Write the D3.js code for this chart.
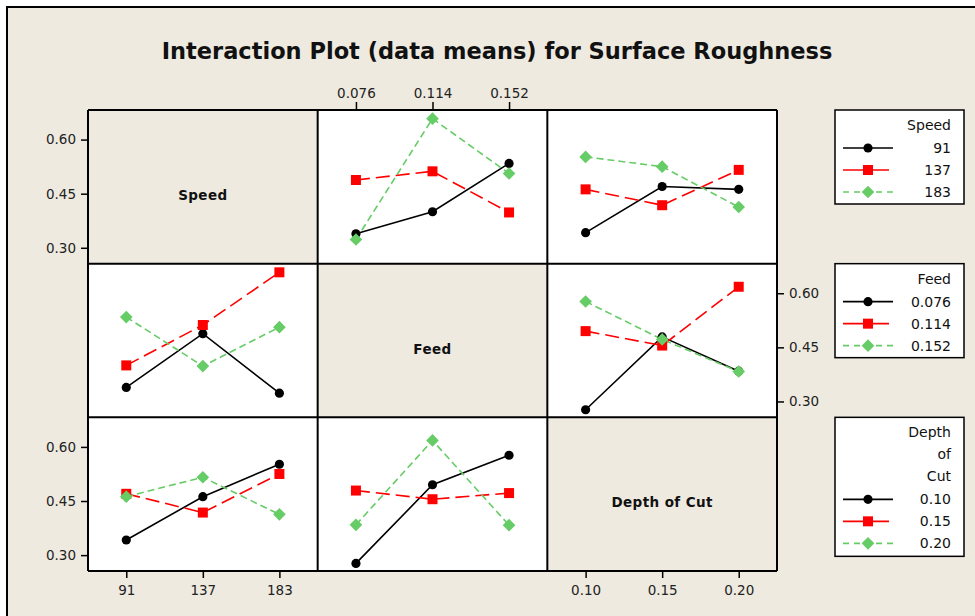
<!DOCTYPE html>
<html>
<head>
<meta charset="utf-8">
<script src="https://cdn.jsdelivr.net/npm/d3@7"></script>
<style>
  html, body { margin: 0; padding: 0; background: #ffffff; }
  svg { display: block; }
</style>
</head>
<body>
<svg id="chart" width="975" height="616"></svg>
<script>
// ---------- data ----------
const titleText = "Interaction Plot (data means) for Surface Roughness";
const factorNames = ["Speed", "Feed", "Depth of Cut"];
const legendTitles = [["Speed"], ["Feed"], ["Depth", "of", "Cut"]];
const speedLevels = ["91", "137", "183"];
const feedLevels = ["0.076", "0.114", "0.152"];
const depthLevels = ["0.10", "0.15", "0.20"];
const yTicks = [0.30, 0.45, 0.60];
// means: rows = level of first factor, columns = level of second factor
const speedByFeed = [
  [0.339, 0.400, 0.534],
  [0.488, 0.512, 0.398],
  [0.323, 0.658, 0.506]
];
const speedByDepth = [
  [0.342, 0.470, 0.462],
  [0.462, 0.418, 0.516],
  [0.552, 0.525, 0.413]
];
const feedByDepth = [
  [0.277, 0.479, 0.384],
  [0.495, 0.455, 0.618],
  [0.577, 0.472, 0.383]
];

// ---------- helpers ----------
const levels = [speedLevels, feedLevels, depthLevels];
function meanOf(fa, la, fb, lb) {
  if (fa > fb) return meanOf(fb, lb, fa, la);
  if (fa === 0 && fb === 1) return speedByFeed[la][lb];
  if (fa === 0 && fb === 2) return speedByDepth[la][lb];
  return feedByDepth[la][lb];
}

const BG = "#eeeae0";
const FONT = "DejaVu Sans, Verdana, sans-serif";
const seriesStyle = [
  { color: "#000000", dash: null, symbol: "circle" },
  { color: "#ff0000", dash: "14,6", symbol: "square" },
  { color: "#66cc66", dash: "7,4", symbol: "diamond" }
];

const svg = d3.select("#chart");

// outer frame
svg.append("rect").attr("x", 7).attr("y", 7).attr("width", 990).attr("height", 640)
  .attr("fill", BG).attr("stroke", "#000").attr("stroke-width", 2);

// title
svg.append("text")
  .attr("x", 497).attr("y", 59)
  .attr("text-anchor", "middle")
  .attr("font-family", FONT)
  .attr("font-weight", "bold")
  .attr("font-size", 22.5)
  .attr("fill", "#111")
  .text(titleText);

// grid layout
const gridLeft = 88, gridTop = 110, gridRight = 777, gridBottom = 571;
const cellW = (gridRight - gridLeft) / 3;
const cellH = (gridBottom - gridTop) / 3;

function xScale(col) {
  return d3.scalePoint().domain(levels[col])
    .range([gridLeft + col * cellW, gridLeft + (col + 1) * cellW]).padding(0.5);
}
function yScale(row) {
  return d3.scaleLinear().domain([0.256, 0.682])
    .range([gridTop + (row + 1) * cellH, gridTop + row * cellH]);
}

function symbolPath(kind) {
  if (kind === "circle") return d3.symbol(d3.symbolCircle, 66)();
  if (kind === "square") return d3.symbol(d3.symbolSquare, 100)();
  return d3.symbol(d3.symbolSquare, 80)();
}
function drawMarker(g, kind, color, x, y) {
  g.append("path").attr("d", symbolPath(kind))
    .attr("transform", `translate(${x},${y})` + (kind === "diamond" ? " rotate(45)" : ""))
    .attr("fill", color);
}

// cells
for (let r = 0; r < 3; r++) {
  for (let c = 0; c < 3; c++) {
    const x0 = gridLeft + c * cellW, y0 = gridTop + r * cellH;
    svg.append("rect").attr("x", x0).attr("y", y0).attr("width", cellW).attr("height", cellH)
      .attr("fill", r === c ? BG : "#ffffff");
    if (r === c) {
      svg.append("text")
        .attr("x", x0 + cellW / 2).attr("y", y0 + cellH / 2 + 13)
        .attr("text-anchor", "middle")
        .attr("font-family", FONT)
        .attr("font-weight", "bold").attr("font-size", 13.5)
        .attr("letter-spacing", 0.4)
        .attr("fill", "#111")
        .text(factorNames[r]);
      continue;
    }
    const xs = xScale(c), ys = yScale(r);
    const g = svg.append("g");
    const line = d3.line().x(d => d[0]).y(d => d[1]);
    levels[r].forEach((lv, k) => {
      const pts = levels[c].map((xl, m) => [xs(xl), ys(meanOf(r, k, c, m))]);
      const st = seriesStyle[k];
      g.append("path").attr("d", line(pts)).attr("fill", "none")
        .attr("stroke", st.color).attr("stroke-width", 1.6)
        .attr("stroke-dasharray", st.dash);
    });
    levels[r].forEach((lv, k) => {
      const st = seriesStyle[k];
      levels[c].forEach((xl, m) => {
        drawMarker(g, st.symbol, st.color, xs(xl), ys(meanOf(r, k, c, m)));
      });
    });
  }
}

// grid lines
const gridG = svg.append("g").attr("stroke", "#000").attr("stroke-width", 2);
for (let i = 0; i <= 3; i++) {
  gridG.append("line").attr("x1", gridLeft + i * cellW).attr("x2", gridLeft + i * cellW)
    .attr("y1", gridTop).attr("y2", gridBottom);
  gridG.append("line").attr("y1", gridTop + i * cellH).attr("y2", gridTop + i * cellH)
    .attr("x1", gridLeft).attr("x2", gridRight);
}

// axes
function styleAxis(g) {
  g.select(".domain").remove();
  g.selectAll(".tick line").attr("stroke", "#000").attr("stroke-width", 1.5);
  g.selectAll(".tick text").attr("fill", "#222")
    .attr("font-family", FONT).attr("font-size", 13.5);
}
const yFmt = d3.format(".2f");
[0, 2].forEach(r => {
  svg.append("g").attr("transform", `translate(${gridLeft},0)`)
    .call(d3.axisLeft(yScale(r)).tickValues(yTicks).tickFormat(yFmt).tickSize(7).tickPadding(5))
    .call(styleAxis);
});
svg.append("g").attr("transform", `translate(${gridRight},0)`)
  .call(d3.axisRight(yScale(1)).tickValues(yTicks).tickFormat(yFmt).tickSize(7).tickPadding(5))
  .call(styleAxis);
svg.append("g").attr("transform", `translate(0,${gridTop})`)
  .call(d3.axisTop(xScale(1)).tickSize(8).tickPadding(4))
  .call(styleAxis);
[0, 2].forEach(c => {
  svg.append("g").attr("transform", `translate(0,${gridBottom})`)
    .call(d3.axisBottom(xScale(c)).tickSize(7).tickPadding(7))
    .call(styleAxis);
});

// legends
const legendX0 = 835, legendX1 = 964, textRight = 951, lineH = 22;
[0, 1, 2].forEach(f => {
  const top = gridTop + f * cellH;
  const titles = legendTitles[f];
  const h = 94 + (titles.length - 1) * 22.5;
  const g = svg.append("g");
  g.append("rect").attr("x", legendX0).attr("y", top).attr("width", legendX1 - legendX0)
    .attr("height", h).attr("fill", "#ffffff").attr("stroke", "#000").attr("stroke-width", 1.5);
  let yy = top + 15;
  titles.forEach(t => {
    g.append("text").attr("x", textRight).attr("y", yy).attr("dy", "0.35em")
      .attr("text-anchor", "end").attr("font-family", FONT)
      .attr("font-size", 14).attr("fill", "#111").text(t);
    yy += lineH;
  });
  yy += 1;
  levels[f].forEach((lv, k) => {
    const st = seriesStyle[k];
    g.append("line").attr("x1", 843).attr("x2", k === 1 ? 889 : 893).attr("y1", yy).attr("y2", yy)
      .attr("stroke", st.color).attr("stroke-width", 1.6)
      .attr("stroke-dasharray", k === 2 ? "6,5" : null);
    drawMarker(g, st.symbol, st.color, 868, yy);
    g.append("text").attr("x", textRight).attr("y", yy).attr("dy", "0.35em")
      .attr("text-anchor", "end").attr("font-family", FONT)
      .attr("font-size", 14).attr("fill", "#111").text(lv);
    yy += lineH;
  });
});
</script>
</body>
</html>
